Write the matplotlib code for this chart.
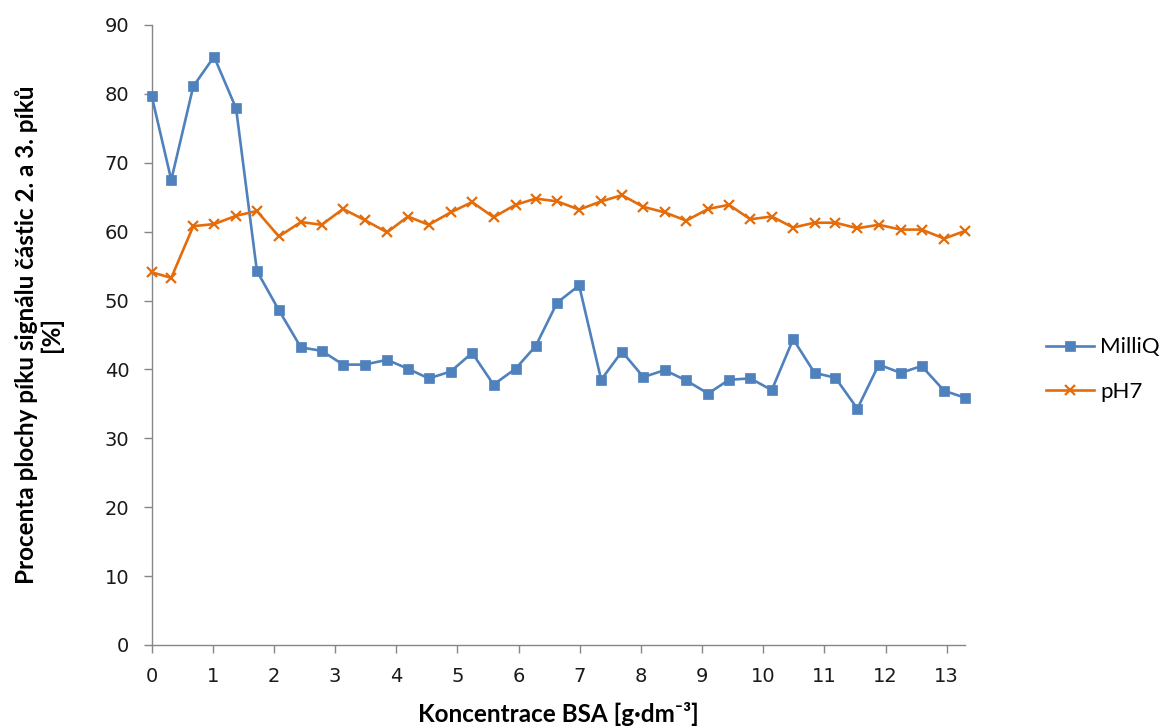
import matplotlib
matplotlib.use("Agg")
import matplotlib.pyplot as plt

# BSA concentration [g/dm3]
konc = [0, 0.32, 0.68, 1.02, 1.38, 1.72, 2.08, 2.44, 2.78, 3.13,
        3.48, 3.85, 4.19, 4.53, 4.89, 5.24, 5.59, 5.95, 6.28, 6.63,
        6.99, 7.35, 7.69, 8.04, 8.39, 8.74, 9.10, 9.44, 9.79, 10.14,
        10.49, 10.84, 11.18, 11.54, 11.89, 12.25, 12.59, 12.96, 13.30]

milliq = [79.7, 67.5, 81.1, 85.4, 77.9, 54.3, 48.6, 43.2, 42.7, 40.7,
          40.7, 41.4, 40.1, 38.7, 39.7, 42.4, 37.8, 40.1, 43.4, 49.7,
          52.2, 38.5, 42.6, 38.9, 39.9, 38.4, 36.5, 38.5, 38.7, 37.0,
          44.4, 39.5, 38.8, 34.3, 40.7, 39.5, 40.5, 36.9, 35.9]

ph7 = [54.1, 53.3, 60.8, 61.1, 62.3, 63.0, 59.3, 61.4, 61.0, 63.3,
       61.7, 59.9, 62.2, 61.0, 62.8, 64.3, 62.1, 63.9, 64.8, 64.4,
       63.2, 64.4, 65.3, 63.6, 62.8, 61.6, 63.3, 63.9, 61.8, 62.2,
       60.6, 61.3, 61.3, 60.5, 61.0, 60.3, 60.3, 59.0, 60.1]

x_ticks = list(range(0, 14))
y_ticks = list(range(0, 100, 10))

BLUE = "#4F81BD"
ORANGE = "#E46C0A"
AXIS_GRAY = "#868686"
LABEL_FONT = ["Lato", "DejaVu Sans"]

W, H = 1162, 727
fig = plt.figure(figsize=(W / 100, H / 100), dpi=100)
ax = fig.add_axes([151.7 / W, 82 / H, (965 - 151.7) / W, 620 / H])

ax.plot(konc, milliq, color=BLUE, lw=1.9, marker="s", markersize=7.5,
        markerfacecolor=BLUE, markeredgecolor=BLUE, markeredgewidth=0.5,
        label="MilliQ", zorder=3, clip_on=False)
ax.plot(konc, ph7, color=ORANGE, lw=1.9, marker="x", markersize=6.5,
        markeredgewidth=1.6, label="pH7", zorder=3, clip_on=False)

ax.set_xlim(0, konc[-1])
ax.set_ylim(0, 90)
ax.set_xticks(x_ticks)
ax.set_yticks(y_ticks)

for side in ["top", "right"]:
    ax.spines[side].set_visible(False)
for side in ["left", "bottom"]:
    ax.spines[side].set_color(AXIS_GRAY)
    ax.spines[side].set_linewidth(1.0)

ax.tick_params(axis="both", direction="out", length=6, width=1.0,
               color=AXIS_GRAY, labelsize=14, labelcolor="#1a1a1a")
ax.tick_params(axis="y", pad=10)
ax.tick_params(axis="x", pad=10)
for lab in ax.get_xticklabels() + ax.get_yticklabels():
    lab.set_family("DejaVu Sans")

ax.set_xlabel("Koncentrace BSA [g·dm⁻³]", family=LABEL_FONT,
              fontweight="bold", fontsize=17.5, va="baseline")
ax.xaxis.set_label_coords(0.5, (645 - 722) / 620)

ax.set_ylabel("Procenta plochy píku signálu částic 2. a 3. píků\n[%]",
              family=LABEL_FONT, fontweight="bold", fontsize=17.5,
              va="center", ha="center", multialignment="center",
              linespacing=1.05)
ax.yaxis.set_label_coords((39 - 151.7) / (965 - 151.7), 0.5)

leg_y = (H - 369.5) / H
leg = ax.legend(loc="center left", bbox_to_anchor=(1040 / W, leg_y),
                bbox_transform=fig.transFigure, frameon=False,
                prop={"family": LABEL_FONT, "size": 16},
                handlelength=2.2, handletextpad=0.25, labelspacing=1.1,
                borderpad=0, borderaxespad=0)

# nudge legend so its text starts where the reference text starts
fig.canvas.draw()
text_x0 = leg.get_texts()[0].get_window_extent().x0
shift = (1100 - text_x0) / W
leg.set_bbox_to_anchor((1040 / W + shift, leg_y), transform=fig.transFigure)

fig.savefig("out.png", dpi=100)
